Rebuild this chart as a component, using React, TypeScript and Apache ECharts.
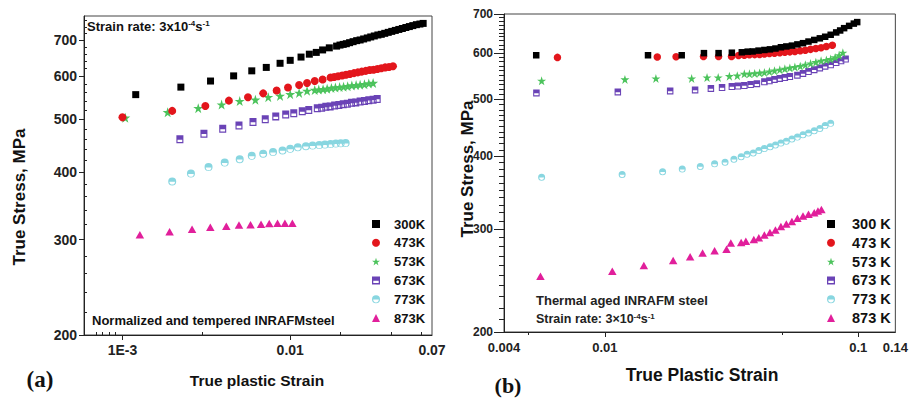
import React, { useEffect, useRef } from 'react';
import * as echarts from 'echarts';

// ---------- data ----------
const namesA = ['300K', '473K', '573K', '673K', '773K', '873K'];
const namesB = ['300 K', '473 K', '573 K', '673 K', '773 K', '873 K'];

const xLabelsA = [0.001, 0.01, 0.07];
const xMajorA = [0.001, 0.01];
const xMinorA = [0.0007, 0.00076, 0.00084, 0.0009, 0.003, 0.02, 0.04, 0.06];
const yLabelsA = [200, 300, 400, 500, 600, 700];
const yMinorA = [220, 240, 260, 280, 320, 340, 360, 380, 420, 440, 460, 480, 520, 540, 560, 580, 620, 640, 660, 680, 720, 740, 760];

const xLabelsB = [0.004, 0.01, 0.1, 0.14];
const xMajorB = [0.01, 0.1];
const xMinorB = [0.005, 0.05];
const yLabelsB = [200, 300, 400, 500, 600, 700];
const yMinorB = [210, 220, 230, 240, 250, 260, 270, 280, 290, 310, 320, 330, 340, 350, 360, 370, 380, 390, 410, 420, 430, 440, 450, 460, 470, 480, 490, 510, 520, 530, 540, 550, 560, 570, 580, 590, 610, 620, 630, 640, 650, 660, 670, 680, 690];

// (a) Normalized and tempered
const a300 = [[0.0012, 555], [0.00223, 573], [0.00335, 588], [0.0046, 601], [0.0059, 614], [0.0072, 623], [0.0087, 634], [0.01, 642], [0.0116, 651], [0.013, 659], [0.0143, 664], [0.0156, 671], [0.0171, 677], [0.0189, 682], [0.0198, 685], [0.0207, 687], [0.0216, 689], [0.0226, 692], [0.0237, 695], [0.0249, 698], [0.0261, 700], [0.0274, 703], [0.0288, 706], [0.0302, 709], [0.0317, 712], [0.0333, 715], [0.0349, 717], [0.0366, 720], [0.0384, 723], [0.0403, 726], [0.0423, 729], [0.0444, 732], [0.0466, 735], [0.0489, 738], [0.0513, 741], [0.0538, 744], [0.0565, 747], [0.0593, 749], [0.062, 751]];
const a473 = [[0.001, 504], [0.00198, 518], [0.00312, 529], [0.00431, 541], [0.0056, 549], [0.0069, 558], [0.0083, 565], [0.0097, 572], [0.0113, 578], [0.0126, 583], [0.014, 588], [0.0156, 592], [0.0174, 597], [0.0183, 598], [0.0193, 600], [0.0204, 602], [0.0215, 604], [0.0227, 606], [0.024, 608], [0.0253, 610], [0.0267, 612], [0.0282, 614], [0.0298, 616], [0.0314, 617], [0.0331, 619], [0.0349, 621], [0.0368, 623], [0.0388, 624], [0.041, 626]];
const a573 = [[0.00104, 503], [0.00186, 515], [0.00283, 524], [0.0039, 532], [0.005, 540], [0.0062, 543], [0.0074, 549], [0.0087, 552], [0.01, 556], [0.0113, 559], [0.0126, 564], [0.014, 566], [0.0148, 567], [0.0157, 568], [0.0166, 569], [0.0176, 571], [0.0186, 572], [0.0197, 573], [0.0208, 574], [0.022, 575], [0.0233, 577], [0.0247, 578], [0.0261, 579], [0.0277, 580], [0.0294, 582], [0.0312, 583]];
const a673 = [[0.0022, 459], [0.00306, 470], [0.00396, 480], [0.00495, 487], [0.006, 494], [0.0071, 500], [0.0082, 506], [0.0094, 510], [0.0105, 513], [0.0118, 517], [0.0129, 520], [0.0145, 524], [0.0154, 525], [0.0163, 527], [0.0173, 528], [0.0184, 530], [0.0195, 531], [0.0207, 533], [0.0219, 534], [0.0232, 536], [0.0246, 537], [0.0261, 539], [0.0277, 540], [0.0294, 542], [0.0312, 543], [0.033, 545]];
const a773 = [[0.00198, 384], [0.00256, 397], [0.00326, 408], [0.00407, 416], [0.005, 422], [0.0059, 428], [0.0069, 432], [0.0079, 435], [0.009, 438], [0.01, 441], [0.0111, 444], [0.0124, 446], [0.0136, 447], [0.0149, 448], [0.0161, 449], [0.0174, 450], [0.0187, 451], [0.02, 451.5], [0.0214, 452]];
const a873 = [[0.00127, 306], [0.00191, 310], [0.0026, 313.5], [0.00334, 316], [0.00416, 317.5], [0.00495, 319], [0.0058, 319.5], [0.0067, 320], [0.0075, 321], [0.0084, 321.3], [0.0093, 321.5], [0.0103, 321.5]];

// (b) Thermal aged
const b300 = [[0.00536, 595], [0.0148, 595], [0.0201, 595], [0.0246, 600], [0.0281, 600], [0.0317, 601], [0.0347, 602], [0.0366, 603.5], [0.0383, 604], [0.0404, 606], [0.0426, 607.5], [0.0448, 609], [0.0471, 611], [0.0495, 614], [0.052, 616], [0.0547, 618], [0.0575, 621], [0.0605, 624], [0.0636, 628], [0.067, 632], [0.0705, 636], [0.074, 640], [0.0778, 645], [0.0818, 651], [0.0848, 656], [0.0879, 662], [0.092, 668], [0.096, 674], [0.099, 678]];
const b473 = [[0.0065, 590], [0.0161, 591], [0.0191, 591.5], [0.0245, 592], [0.0281, 592], [0.0316, 592], [0.0337, 594.5], [0.0355, 595], [0.0372, 596], [0.039, 596.5], [0.0408, 597], [0.0426, 598], [0.0446, 599], [0.0467, 600], [0.049, 601], [0.0513, 602], [0.0537, 603], [0.0562, 604], [0.059, 605.5], [0.0618, 607], [0.0648, 609], [0.068, 611], [0.0713, 613], [0.0748, 616], [0.079, 619]];
const b573 = [[0.00563, 538], [0.012, 541], [0.0159, 543], [0.022, 543], [0.0253, 545], [0.028, 545], [0.031, 548], [0.0333, 549], [0.0355, 553], [0.0372, 553], [0.039, 554], [0.0408, 555], [0.0426, 556], [0.0446, 558], [0.0467, 560], [0.049, 562], [0.0513, 564], [0.0537, 566], [0.0562, 568], [0.059, 570], [0.0618, 573], [0.0648, 576], [0.068, 579], [0.0713, 582], [0.0748, 584], [0.0778, 586], [0.081, 590], [0.084, 595], [0.0869, 601]];
const b673 = [[0.00537, 513], [0.01125, 515], [0.0181, 517], [0.0227, 519], [0.0262, 522], [0.029, 524], [0.0317, 526], [0.0335, 527], [0.0355, 528], [0.0376, 530], [0.0398, 532], [0.0426, 536], [0.0446, 538], [0.0467, 541], [0.049, 543], [0.0513, 545], [0.0537, 547], [0.0575, 550], [0.0605, 554], [0.0636, 558], [0.067, 562], [0.0705, 566], [0.074, 570], [0.0778, 573], [0.0818, 578], [0.0855, 582], [0.0891, 586]];
const b773 = [[0.00563, 368], [0.0117, 372], [0.0169, 376], [0.0202, 380], [0.0238, 384], [0.0271, 388], [0.0298, 390.5], [0.0323, 395], [0.0345, 399], [0.0364, 403], [0.0385, 405], [0.0405, 409], [0.0426, 412], [0.0449, 415], [0.0471, 418], [0.0495, 421], [0.052, 424], [0.0547, 428], [0.0575, 431], [0.0605, 435], [0.0636, 438], [0.067, 442], [0.0705, 446], [0.074, 451], [0.0778, 455]];
const b873 = [[0.00557, 249], [0.0107, 254], [0.01425, 260], [0.0186, 265], [0.0217, 269], [0.0243, 273], [0.0271, 275.4], [0.0302, 277], [0.0314, 284], [0.0345, 284.5], [0.036, 286], [0.0387, 288], [0.0405, 290], [0.0426, 293], [0.0448, 296], [0.0471, 299], [0.0495, 303], [0.052, 306], [0.0547, 309], [0.0575, 313], [0.0605, 316], [0.0636, 318], [0.067, 320], [0.0693, 322], [0.0715, 324]];

// ---------- styling ----------
const FONT = '"Liberation Sans", Arial, Helvetica, sans-serif';
const colors = ['#000000', '#e3161c', '#4cc35c', '#6a43b6', '#88d6e0', '#e11f9b'];
const STAR = 'path://M5,0L6.18,3.62L10,3.62L6.91,5.86L8.09,9.5L5,7.26L1.91,9.5L3.09,5.86L0,3.62L3.82,3.62Z';
const HALF_SQ = 'path://M0,0H10V10H0Z M1.6,5.4V8.4H8.4V5.4Z';
const HALF_CI = 'path://M0,5A5,5 0 1,1 10,5A5,5 0 1,1 0,5Z M1.5,5.5A3.5,3.5 0 0,0 8.5,5.5Z';
const symbols = ['rect', 'circle', STAR, HALF_SQ, HALF_CI, 'triangle'];
const sizesA: any[] = [7, 8, 10, [7, 8], 8, [8.5, 7.5]];
const sizesB: any[] = [6.5, 7.5, 9, [6.5, 7], 7, [8.5, 7.5]];

const fmtNum = (v: number) => {
  const n = Number(Number(v).toPrecision(6));
  if (Math.abs(n - 0.001) < 1e-9) return '1E-3';
  return String(n);
};

function xAxisPair(grid: number, min: number, max: number, labels: number[], major: number[], minor: number[], fs: number, margin: number, minorInside: boolean) {
  return [
    {
      type: 'log', logBase: 10, gridIndex: grid, min, max, position: 'bottom',
      axisLine: { show: true, onZero: false, lineStyle: { color: '#222', width: 1 } },
      axisTick: { show: true, inside: false, length: 5, customValues: major, lineStyle: { color: '#222' } },
      axisLabel: { show: true, customValues: labels, formatter: fmtNum, margin, fontSize: fs, fontWeight: 'bold', fontFamily: FONT, color: '#222', showMinLabel: true, showMaxLabel: true },
      splitLine: { show: false }, minorTick: { show: false },
    },
    {
      type: 'log', logBase: 10, gridIndex: grid, min, max, position: 'bottom',
      axisLine: { show: false },
      axisTick: { show: true, inside: minorInside, length: 3, customValues: minor, lineStyle: { color: '#222' } },
      axisLabel: { show: false },
      splitLine: { show: false },
    },
  ];
}

function yAxisPair(grid: number, min: number, max: number, labels: number[], minor: number[], fs: number, margin: number, majorLen: number, minorLen: number, minorInside: boolean) {
  return [
    {
      type: 'log', logBase: 10, gridIndex: grid, min, max, position: 'left',
      axisLine: { show: true, onZero: false, lineStyle: { color: '#222', width: 1 } },
      axisTick: { show: true, inside: false, length: majorLen, customValues: labels, lineStyle: { color: '#222' } },
      axisLabel: { show: true, customValues: labels, formatter: (v: number) => String(Math.round(v)), margin, fontSize: fs, fontWeight: 'bold', fontFamily: FONT, color: '#222', showMinLabel: true, showMaxLabel: true },
      splitLine: { show: false },
    },
    {
      type: 'log', logBase: 10, gridIndex: grid, min, max, position: 'left',
      axisLine: { show: false },
      axisTick: { show: true, inside: minorInside, length: minorLen, customValues: minor, lineStyle: { color: '#222' } },
      axisLabel: { show: false },
      splitLine: { show: false },
    },
  ];
}

const txt = (text: string, x: number, y: number, font: string, opts: any = {}) => ({
  type: 'text', x, y, rotation: opts.rotation || 0, silent: true,
  style: {
    text, font, fill: opts.fill || '#111',
    textAlign: opts.align || 'left', textVerticalAlign: 'middle', verticalAlign: 'middle',
    rich: opts.rich,
  },
});

export default function App() {
  const ref = useRef<HTMLDivElement>(null);
  useEffect(() => {
    if (!ref.current) return;
    const chart = echarts.init(ref.current, undefined, { renderer: 'svg' });
    const seriesA = [a300, a473, a573, a673, a773, a873];
    const seriesB = [b300, b473, b573, b673, b773, b873];
    const series: any[] = [];
    seriesA.forEach((d, i) => series.push({
      type: 'scatter', name: namesA[i], xAxisIndex: 0, yAxisIndex: 0, data: d,
      symbol: symbols[i], symbolSize: sizesA[i], itemStyle: { color: colors[i], opacity: 1 },
      emphasis: { disabled: true }, z: 10 - i,
    }));
    seriesB.forEach((d, i) => series.push({
      type: 'scatter', name: namesB[i], xAxisIndex: 2, yAxisIndex: 2, data: d,
      symbol: symbols[i], symbolSize: sizesB[i], itemStyle: { color: colors[i], opacity: 1 },
      emphasis: { disabled: true }, z: 10 - i,
    }));

    const supRich = { sup: { fontSize: 8, fontWeight: 'bold', fontFamily: FONT, verticalAlign: 'top', lineHeight: 14, fill: '#111' } };
    const supRichB = { sup: { fontSize: 8, fontWeight: 'bold', fontFamily: FONT, verticalAlign: 'top', lineHeight: 13, fill: '#222' } };

    chart.setOption({
      animation: false,
      backgroundColor: '#ffffff',
      grid: [
        { left: 84, top: 16, width: 348, height: 319, show: true, borderColor: '#444', borderWidth: 1, backgroundColor: 'transparent', containLabel: false },
        { left: 504, top: 14, width: 393, height: 318, show: true, borderColor: '#444', borderWidth: 1, backgroundColor: 'transparent', containLabel: false },
      ],
      xAxis: [
        ...xAxisPair(0, 0.00059, 0.07, xLabelsA, xMajorA, xMinorA, 14, 8, true),
        ...xAxisPair(1, 0.004, 0.14, xLabelsB, xMajorB, xMinorB, 13, 9, false),
      ],
      yAxis: [
        ...yAxisPair(0, 200, 775, yLabelsA, yMinorA, 14, 7, 5, 3, true),
        ...yAxisPair(1, 200, 700, yLabelsB, yMinorB, 12, 11, 10, 5, false),
      ],
      legend: [
        {
          data: namesA, orient: 'vertical', left: 372, top: 217, padding: 0, itemWidth: 8, itemHeight: 8, itemGap: 4.8,
          selectedMode: false,
          textStyle: { fontSize: 13, fontWeight: 'bold', fontFamily: FONT, color: '#111', padding: [0, 0, 0, 9], lineHeight: 14 },
        },
        {
          data: namesB, orient: 'vertical', left: 827, top: 216.5, padding: 0, itemWidth: 8, itemHeight: 8, itemGap: 3.8,
          selectedMode: false,
          textStyle: { fontSize: 14.5, fontWeight: 'bold', fontFamily: FONT, color: '#111', padding: [0, 0, 0, 12], lineHeight: 15 },
        },
      ],
      graphic: [
        txt('Strain rate: 3x10{sup|-4}s{sup|-1}', 87, 26, `bold 13px ${FONT}`, { rich: supRich }),
        txt('Normalized and tempered INRAFMsteel', 92, 320, `bold 13px ${FONT}`),
        txt('Thermal aged INRAFM steel', 536, 300.5, `bold 13px ${FONT}`, { fill: '#222' }),
        txt('Strain rate: 3\u00d710{sup|-4}s{sup|-1}', 536, 319, `bold 12.5px ${FONT}`, { fill: '#222', rich: supRichB }),
        txt('True Stress, MPa', 19, 197, `bold 17px ${FONT}`, { align: 'center', rotation: Math.PI / 2 }),
        txt('True Stress, MPa', 467, 169, `bold 17px ${FONT}`, { align: 'center', rotation: Math.PI / 2 }),
        txt('True plastic Strain', 257, 380, `bold 15.5px ${FONT}`, { align: 'center' }),
        txt('True Plastic Strain', 702, 375, `bold 17.5px ${FONT}`, { align: 'center' }),
        txt('(a)', 40, 379, `bold 23px "Liberation Serif", "Times New Roman", serif`, { align: 'center' }),
        txt('(b)', 508, 385, `bold 22px "Liberation Serif", "Times New Roman", serif`, { align: 'center' }),
      ],
      series,
    });
    return () => chart.dispose();
  }, []);
  return <div ref={ref} style={{ width: 911, height: 398, position: 'absolute', left: 0, top: 0 }} />;
}
